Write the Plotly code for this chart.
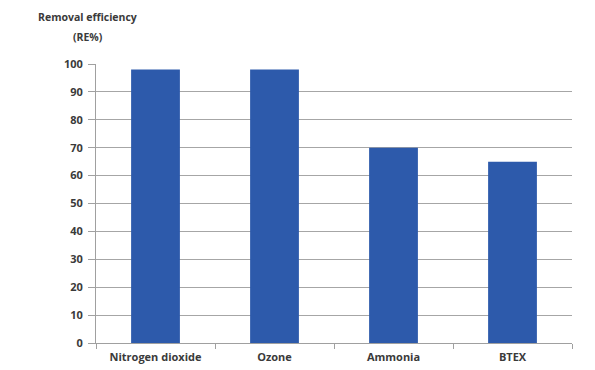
import plotly.graph_objects as go

categories = ["Nitrogen dioxide", "Ozone", "Ammonia", "BTEX"]
values = [98, 98, 70, 65]
y_ticks = [0, 10, 20, 30, 40, 50, 60, 70, 80, 90, 100]

fig = go.Figure()
fig.add_trace(go.Bar(
    x=categories, y=values,
    marker=dict(color="#2d5aab", line=dict(width=0)),
    width=0.41,
))

font = dict(family="Open Sans, Liberation Sans, sans-serif", size=11, color="#3a3a3a", weight="bold")
tfont = dict(family="Open Sans, sans-serif", size=10.5, color="#3a3a3a", weight="bold")

fig.update_layout(
    width=595, height=370,
    margin=dict(l=96, r=23, t=64, b=27),
    paper_bgcolor="white", plot_bgcolor="white",
    showlegend=False,
    font=font,
    xaxis=dict(
        tickson="boundaries", ticks="outside", ticklen=5, tickcolor="#a0a0a0",
        showline=True, linecolor="#a0a0a0", linewidth=1, automargin=False,
        showgrid=False, tickfont=font, range=[-0.5, 3.5], ticklabelstandoff=4,
    ),
    yaxis=dict(
        range=[0, 100], tickvals=y_ticks, ticks="outside", ticklen=7,
        tickcolor="#a0a0a0", showline=True, linecolor="#a0a0a0", linewidth=1,
        showgrid=True, gridcolor="#a6a6a6", gridwidth=1, automargin=False,
        zeroline=False, tickfont=font, ticklabelstandoff=3,
    ),
    annotations=[
        dict(text="Removal efficiency", xref="paper", yref="paper",
             x=-0.017, y=1.168, xanchor="center", yanchor="middle",
             showarrow=False, font=tfont),
        dict(text="(RE%)", xref="paper", yref="paper",
             x=-0.017, y=1.097, xanchor="center", yanchor="middle",
             showarrow=False, font=tfont),
    ],
)

fig.write_html("out.html")
